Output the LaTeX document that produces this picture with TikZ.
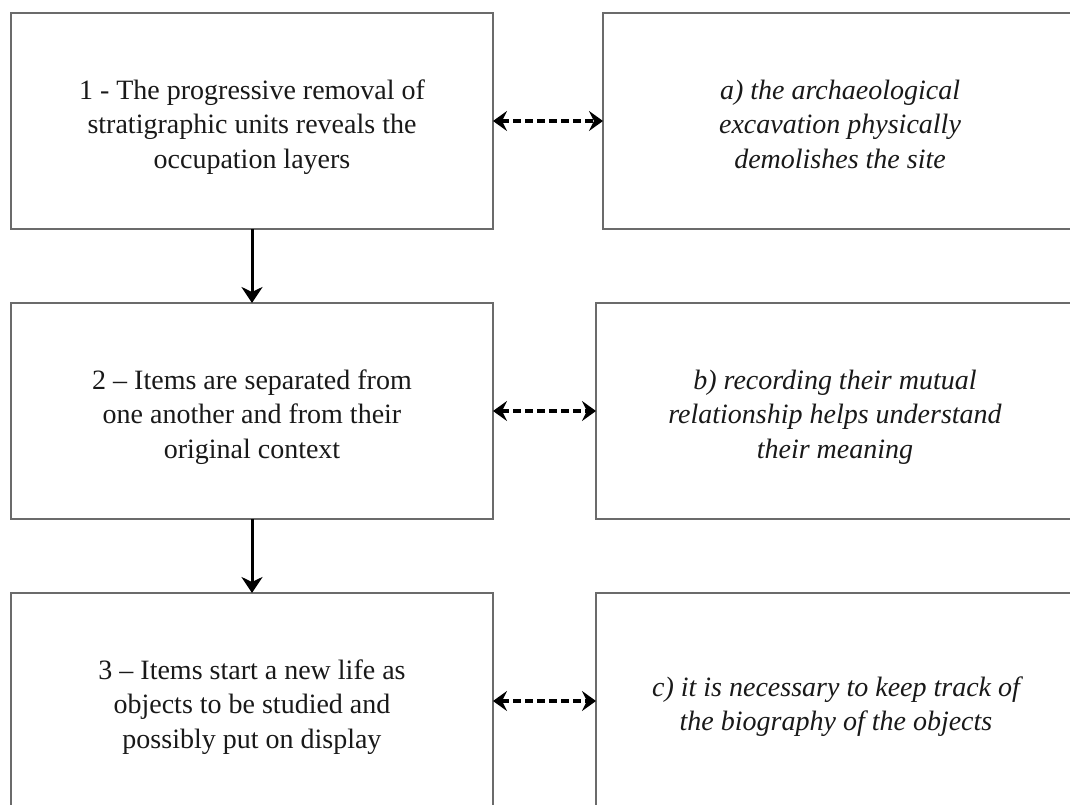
\documentclass[tikz,border=0pt]{standalone}
\usepackage{fontspec}
\setmainfont{Liberation Serif}
\usetikzlibrary{arrows.meta}
\tikzset{
  boxnode/.style={draw=black!58, line width=1.5pt, fill=white, minimum height=216pt, inner sep=0pt, outer sep=0pt},
  txt/.style={align=center, inner sep=0pt, font=\fontsize{28}{34.5}\selectfont, text=black!90},
  downarrow/.style={line width=3pt, -{Stealth[length=16pt,width=21pt,inset=5pt]}},
  dasharrow/.style={line width=3.4pt, dash pattern=on 8pt off 4pt, {Stealth[length=14pt,width=20pt,inset=5pt]}-{Stealth[length=14pt,width=20pt,inset=5pt]}}
}
\begin{document}
\begin{tikzpicture}[x=1pt,y=-1pt]
\clip (0,0) rectangle (1070,805);
\fill[white] (0,0) rectangle (1070,805);
% boxes
\node[boxnode, minimum width=482pt] (b1) at (252,121) {};
\node[boxnode, minimum width=487pt] (ba) at (846.5,121) {};
\node[boxnode, minimum width=482pt] (b2) at (252,411) {};
\node[boxnode, minimum width=494pt] (bb) at (843,411) {};
\node[boxnode, minimum width=482pt] (b3) at (252,701) {};
\node[boxnode, minimum width=494pt] (bc) at (843,701) {};
% texts
\node[txt] (t1) at (252,127) {\strut 1 - The progressive removal of\\ stratigraphic units reveals the\\ occupation layers\strut};
\node[txt, font=\fontsize{28}{34.5}\selectfont\itshape] (ta) at (840,127) {\strut a) the archaeological\\ excavation physically\\ demolishes the site\strut};
\node[txt] (t2) at (252,417) {\strut 2 – Items are separated from\\ one another and from their\\ original context\strut};
\node[txt, font=\fontsize{28}{34.5}\selectfont\itshape] (tb) at (835,417) {\strut b) recording their mutual\\ relationship helps understand\\ their meaning\strut};
\node[txt] (t3) at (252,707) {\strut 3 – Items start a new life as\\ objects to be studied and\\ possibly put on display\strut};
\node[txt, font=\fontsize{28}{34.5}\selectfont\itshape] (tc) at (836,706.5) {\strut c) it is necessary to keep track of\\ the biography of the objects\strut};
% connectors
\draw[downarrow] (b1.south) -- (b2.north);
\draw[downarrow] (b2.south) -- (b3.north);
\draw[dasharrow] (b1.east) -- (ba.west);
\draw[dasharrow] (b2.east) -- (bb.west);
\draw[dasharrow] (b3.east) -- (bc.west);
\end{tikzpicture}
\end{document}
